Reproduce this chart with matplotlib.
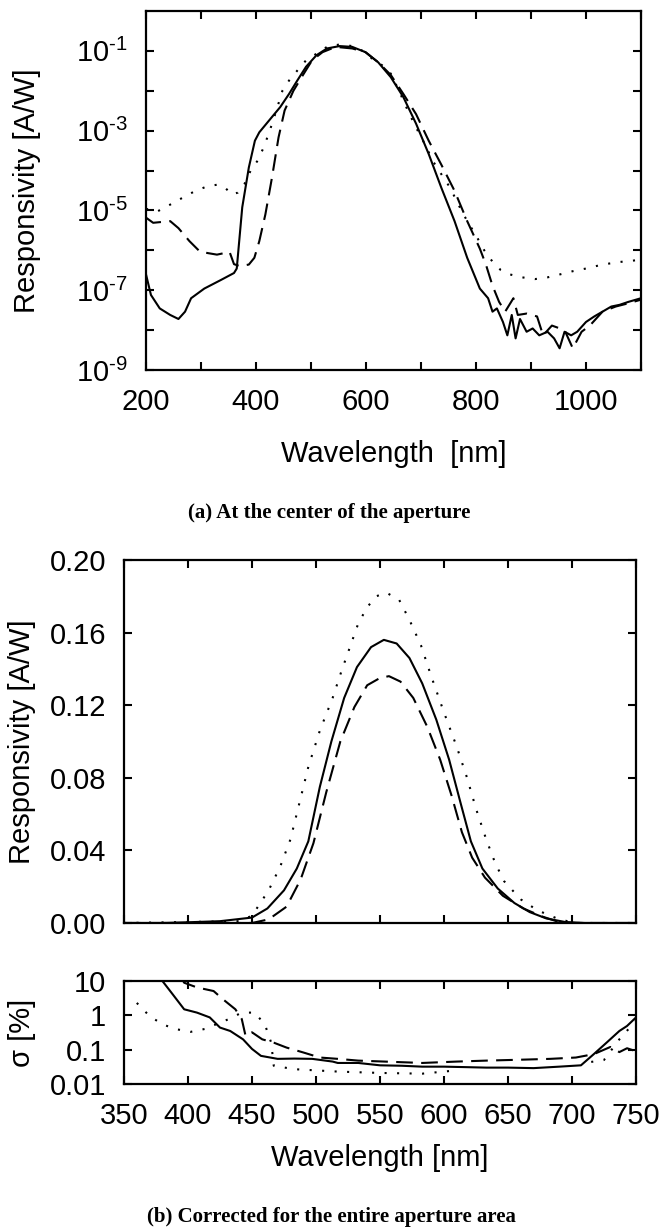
import numpy as np
import matplotlib
matplotlib.use('Agg')
import matplotlib.pyplot as plt

plt.rcParams['font.family'] = ['Liberation Sans', 'DejaVu Sans']
plt.rcParams['mathtext.fontset'] = 'custom'
plt.rcParams['mathtext.rm'] = 'Liberation Sans'
plt.rcParams['mathtext.it'] = 'Liberation Sans:italic'

# (a) responsivity at the center of the aperture, log scale
a_solid_nm = [200, 209, 225, 244, 259, 271, 282, 306, 336, 360, 365, 375, 387, 398, 406, 429, 444, 460,
              475, 491, 510, 529, 552, 575, 599, 622, 645, 668, 691, 714, 737, 761, 784, 807, 822, 830,
              838, 849, 857, 865, 872, 880, 892, 903, 915, 930, 942, 952, 961, 973, 984, 1000, 1015,
              1030, 1046, 1061, 1077, 1100]
a_solid = [2.5e-7, 7.6e-8, 3.5e-8, 2.4e-8, 1.9e-8, 2.9e-8, 6.3e-8, 1.1e-7, 1.8e-7, 2.7e-7, 3.5e-7,
           1.2e-5, 1.2e-4, 5.6e-4, 9.1e-4, 2.2e-3, 3.9e-3, 8.3e-3, 1.8e-2, 4.0e-2, 7.8e-2, 0.115,
           0.132, 0.126, 0.093, 0.052, 0.022, 6.9e-3, 1.5e-3, 2.6e-4, 3.7e-5, 5.4e-6, 6.5e-7, 1.1e-7,
           6.3e-8, 2.9e-8, 3.5e-8, 1.6e-8, 7.4e-9, 2.4e-8, 6.2e-9, 1.9e-8, 9.1e-9, 1.1e-8, 7.4e-9,
           9.1e-9, 6.2e-9, 3.5e-9, 9.1e-9, 7.4e-9, 9.1e-9, 1.6e-8, 2.2e-8, 2.9e-8, 3.9e-8, 4.3e-8,
           5.1e-8, 6.3e-8]

a_dash_nm = [200, 213, 244, 259, 279, 298, 313, 329, 352, 360, 371, 387, 397, 406, 417, 429, 441, 452,
             468, 483, 502, 521, 545, 575, 599, 622, 645, 668, 691, 714, 737, 761, 784, 807, 818, 830,
             842, 853, 868, 876, 892, 911, 922, 938, 961, 976, 992, 1007, 1030, 1054, 1077, 1100]
a_dash = [6.6e-6, 4.9e-6, 5.4e-6, 3.6e-6, 1.7e-6, 9.3e-7, 8.5e-7, 7.8e-7, 9.1e-7, 4.5e-7, 4.0e-7,
          4.4e-7, 6.5e-7, 1.7e-6, 7.9e-6, 6.6e-5, 6.8e-4, 3.2e-3, 1.0e-2, 2.2e-2, 5.8e-2, 9.3e-2,
          0.126, 0.115, 0.093, 0.052, 0.025, 8.3e-3, 2.6e-3, 5.6e-4, 1.4e-4, 3.1e-5, 5.4e-6, 1.1e-6,
          4.4e-7, 1.3e-7, 5.1e-8, 2.9e-8, 6.3e-8, 2.4e-8, 2.6e-8, 2.2e-8, 7.4e-9, 1.3e-8, 1.0e-8,
          3.5e-9, 9.1e-9, 1.3e-8, 2.9e-8, 3.9e-8, 4.7e-8, 5.8e-8]

a_dot_nm = [200, 221, 244, 267, 290, 313, 329, 344, 356, 367, 379, 390, 402, 414, 425, 437, 448, 460,
            475, 491, 510, 529, 552, 575, 599, 614, 629, 645, 660, 676, 691, 707, 722, 737, 753, 768,
            784, 799, 815, 830, 845, 861, 884, 907, 930, 953, 976, 1000, 1030, 1061, 1100]
a_dot = [1.1e-5, 9.5e-6, 1.4e-5, 2.1e-5, 3.1e-5, 4.1e-5, 4.4e-5, 3.7e-5, 2.5e-5, 2.8e-5, 4.6e-5,
         9.8e-5, 1.7e-4, 3.8e-4, 1.0e-3, 3.2e-3, 1.0e-2, 1.8e-2, 3.2e-2, 5.8e-2, 8.5e-2, 0.126, 0.145,
         0.132, 0.093, 0.058, 0.044, 0.027, 0.010, 3.2e-3, 1.2e-3, 4.6e-4, 1.7e-4, 8.1e-5, 3.7e-5,
         1.4e-5, 5.4e-6, 2.5e-6, 1.0e-6, 5.2e-7, 3.2e-7, 2.5e-7, 2.1e-7, 1.9e-7, 2.1e-7, 2.5e-7,
         3.0e-7, 3.5e-7, 4.4e-7, 5.1e-7, 5.8e-7]

# (b) corrected for the entire aperture area, linear scale
b_solid_nm = [350, 380, 400, 425, 450, 462, 475, 485, 494, 503, 512, 522, 532, 543, 553, 563, 573,
              583, 594, 604, 613, 621, 630, 642, 655, 667, 680, 695, 710, 750]
b_solid = [0.0, 0.0, 0.0004, 0.001, 0.003, 0.008, 0.018, 0.030, 0.045, 0.075, 0.100, 0.124, 0.141,
           0.152, 0.156, 0.154, 0.146, 0.132, 0.112, 0.090, 0.066, 0.045, 0.030, 0.019, 0.011, 0.006,
           0.0025, 0.0005, 0.0, 0.0]

b_dash_nm = [350, 450, 463, 477, 488, 498, 508, 519, 530, 540, 550, 557, 566, 576, 587, 597, 606, 614,
             622, 632, 646, 662, 677, 690, 703, 750]
b_dash = [0.0, 0.0, 0.002, 0.009, 0.024, 0.044, 0.072, 0.100, 0.119, 0.131, 0.135, 0.136, 0.133,
          0.124, 0.108, 0.090, 0.070, 0.050, 0.036, 0.025, 0.015, 0.008, 0.0035, 0.0005, 0.0, 0.0]

b_dot_nm = [350, 440, 450, 463, 472, 480, 487, 494, 503, 513, 520, 527, 533, 540, 547, 555, 565, 573,
            582, 590, 600, 610, 618, 625, 633, 640, 647, 660, 673, 690, 703, 750]
b_dot = [0.0, 0.001, 0.004, 0.018, 0.031, 0.046, 0.066, 0.086, 0.106, 0.124, 0.139, 0.153, 0.165,
         0.174, 0.180, 0.182, 0.178, 0.167, 0.153, 0.136, 0.116, 0.097, 0.080, 0.063, 0.046, 0.033,
         0.023, 0.013, 0.007, 0.002, 0.0, 0.0]

# sigma [%]
s_solid_nm = [370, 380, 387, 397, 407, 417, 425, 433, 443, 450, 457, 470, 483, 497, 513, 517, 533, 550,
              567, 583, 600, 617, 633, 650, 670, 690, 707, 717, 727, 737, 743, 750]
s_solid = [20, 10, 4.6, 1.5, 1.2, 0.87, 0.44, 0.35, 0.20, 0.105, 0.066, 0.054, 0.055, 0.054, 0.045,
           0.041, 0.041, 0.035, 0.034, 0.032, 0.032, 0.031, 0.030, 0.030, 0.029, 0.032, 0.035, 0.074,
           0.16, 0.35, 0.49, 0.87]

s_dash_nm = [395, 397, 407, 420, 427, 437, 442, 445, 450, 458, 467, 477, 490, 503, 517, 533, 583, 610,
             633, 660, 683, 703, 717, 730, 737, 743, 750]
s_dash = [12, 8.9, 6.5, 5.1, 3.0, 1.5, 0.78, 0.25, 0.32, 0.20, 0.16, 0.115, 0.083, 0.059, 0.054,
          0.048, 0.041, 0.045, 0.048, 0.051, 0.054, 0.059, 0.074, 0.12, 0.085, 0.11, 0.09]

s_dot_nm = [360, 370, 380, 390, 402, 413, 432, 442, 452, 460, 465, 467, 483, 517, 550, 583, 610, 611,
            714, 715, 725, 737, 750]
s_dot = [2.3, 0.95, 0.55, 0.40, 0.33, 0.40, 0.78, 1.2, 1.2, 0.55, 0.16, 0.034, 0.027, 0.023, 0.021,
         0.020, 0.025, np.nan, np.nan, 0.044, 0.05, 0.2, 0.7]

W, H = 666, 1232
fig = plt.figure(figsize=(W / 100, H / 100), dpi=100)
ax1 = fig.add_axes([146 / W, 1 - 370 / H, 495 / W, 359 / H])
ax2 = fig.add_axes([124 / W, 1 - 923 / H, 512 / W, 363 / H])
ax3 = fig.add_axes([124 / W, 1 - 1084 / H, 512 / W, 103 / H])

lw = 1.5
dash = (0, (8, 4))
dot = (0, (1, 5))

ax1.plot(a_solid_nm, a_solid, color='black', lw=lw, ls='-')
ax1.plot(a_dash_nm, a_dash, color='black', lw=lw, ls=dash)
ax1.plot(a_dot_nm, a_dot, color='black', lw=lw, ls=dot)
ax1.set_yscale('log')
ax1.set_xlim(200, 1100)
ax1.set_ylim(1e-9, 1)
ax1.set_xticks(range(200, 1101, 100))
ax1.set_xticklabels([str(v) if v % 200 == 0 else '' for v in range(200, 1101, 100)])
exps = list(range(-9, 0))
ax1.set_yticks([10.0 ** e for e in exps])
ax1.set_yticklabels([r'$10^{\text{-}%d}$' % -e if e % 2 else '' for e in exps])
ax1.set_xlabel('Wavelength  [nm]')
ax1.set_ylabel('Responsivity [A/W]')
ax1.yaxis.set_label_coords(-0.24, 0.5)
ax1.xaxis.set_label_coords(0.5, -0.235)

ax2.plot(b_solid_nm, b_solid, color='black', lw=lw, ls='-')
ax2.plot(b_dash_nm, b_dash, color='black', lw=lw, ls=dash)
ax2.plot(b_dot_nm, b_dot, color='black', lw=lw, ls=dot)
ax2.set_xlim(350, 750)
ax2.set_ylim(0, 0.2)
ax2.set_xticks(range(350, 751, 50))
ax2.set_yticks([0, 0.04, 0.08, 0.12, 0.16, 0.20])
ax2.set_yticklabels(['0.00', '0.04', '0.08', '0.12', '0.16', '0.20'])
ax2.tick_params(labelbottom=False)
ax2.set_ylabel('Responsivity [A/W]')
ax2.yaxis.set_label_coords(-0.2, 0.5)

ax3.plot(s_solid_nm, s_solid, color='black', lw=lw, ls='-')
ax3.plot(s_dash_nm, s_dash, color='black', lw=lw, ls=dash)
ax3.plot(s_dot_nm, s_dot, color='black', lw=lw, ls=dot)
ax3.set_yscale('log')
ax3.set_xlim(350, 750)
ax3.set_ylim(0.01, 10)
ax3.set_xticks(range(350, 751, 50))
ax3.set_yticks([0.01, 0.1, 1, 10])
ax3.set_yticklabels(['0.01', '0.1', '1', '10'])
ax3.set_xlabel('Wavelength [nm]')
ax3.set_ylabel('σ [%]')
ax3.yaxis.set_label_coords(-0.2, 0.5)
ax3.xaxis.set_label_coords(0.5, -0.72)

for ax in (ax1, ax2, ax3):
    ax.minorticks_off()
    ax.tick_params(direction='in', length=6, width=1.5, top=True, right=True,
                   labelsize=21, pad=13)
    for s in ax.spines.values():
        s.set_linewidth(1.6)
    ax.xaxis.label.set_size(21)
    ax.yaxis.label.set_size(21)
    ax.xaxis.label.set_va('center')
    ax.yaxis.label.set_va('center')

cap = dict(family='Liberation Serif', weight='bold', size=15, ha='center', va='center')
fig.text(329 / W, 1 - 513 / H, '(a) At the center of the aperture', **cap)
fig.text(331 / W, 1 - 1217 / H, '(b) Corrected for the entire aperture area', **cap)

fig.savefig('out.png', dpi=100)
